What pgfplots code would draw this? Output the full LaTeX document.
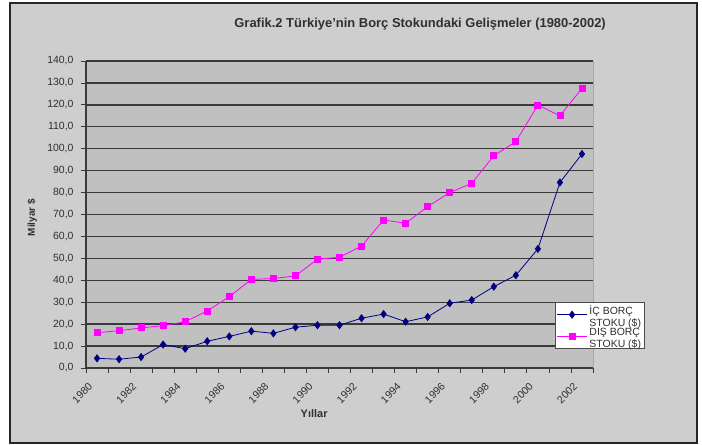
\documentclass[border=0pt]{standalone}
\usepackage{pgfplots}
\pgfplotsset{compat=1.18}
\usepackage{fontspec}
\setmainfont{Liberation Sans}
\definecolor{chartbg}{HTML}{CECECE}
\definecolor{plotbg}{HTML}{C0C0C0}
\definecolor{gridc}{HTML}{3A3A3A}
\definecolor{icblue}{HTML}{000080}
\definecolor{dispink}{HTML}{FF00FF}
\definecolor{txt}{HTML}{303030}

\begin{document}
\begin{tikzpicture}
% page and outer chart frame, in bp from the plot's lower left corner
\useasboundingbox (-86bp,-77bp) rectangle (616bp,368bp);
\fill[white] (-86bp,-77bp) rectangle (616bp,368bp);
\filldraw[fill=chartbg, draw=black!85, line width=2bp] (-76bp,-75bp) rectangle (611bp,365bp);
\begin{axis}[
    at={(0,0)}, anchor=south west,
    scale only axis, width=507bp, height=307bp,
    xmin=-0.5, xmax=22.5, ymin=0, ymax=140,
    axis x line*=bottom, axis y line*=left,
    axis line style={-, gridc, line width=1.2bp},
    axis background/.style={fill=plotbg, draw=gray!70},
    ytick={0,10,...,140},
    ymajorgrids, major grid style={gridc, line width=1.3bp},
    xtick={-0.5,0.5,...,22.5}, xticklabels={},
    extra x ticks={0,2,...,22},
    extra x tick labels={1980,1982,1984,1986,1988,1990,1992,1994,1996,1998,2000,2002},
    extra x tick style={major tick length=0pt, grid=none,
        tick label style={rotate=45, anchor=north east, inner sep=1bp, xshift=-15.5bp, yshift=-2.5bp}},
    tick align=outside, major tick length=5bp,
    tick style={gridc, line width=0.8bp},
    tick label style={font=\fontsize{10.5}{12}\selectfont, text=txt},
    yticklabel style={xshift=-4bp},
    /pgf/number format/assume math mode=true,
    yticklabel style={/pgf/number format/.cd, fixed, fixed zerofill, precision=1, use comma, 1000 sep={}},
    title={Grafik.2 Türkiye'nin Borç Stokundaki Gelişmeler (1980-2002)},
    title style={at={(axis description cs:0.659,1.101)}, anchor=center,
        font=\fontsize{13}{15}\selectfont\bfseries, text=txt},
    xlabel={Yıllar},
    xlabel style={at={(axis description cs:0.45,-0.15)}, anchor=center,
        font=\fontsize{11}{13}\selectfont\bfseries, text=txt},
    ylabel={Milyar \$},
    ylabel style={at={(axis description cs:-0.106,0.49)}, anchor=center, rotate=0,
        font=\fontsize{10}{12}\selectfont\bfseries, text=txt},
    legend style={at={(rel axis cs:0.925,0.215)}, anchor=north west, fill=white,
        draw=gray!60!black, font=\fontsize{10.5}{11.5}\selectfont, text=txt,
        inner sep=1.5bp, row sep=0bp, nodes={text depth=9bp}},
    legend cell align=left,
    legend image code/.code={\draw[mark repeat=2, mark phase=2] plot coordinates {(0bp,0bp) (15bp,0bp) (30bp,0bp)};},
]
\addplot[icblue, line width=0.8bp, mark=diamond*, mark size=3.5bp, mark options={solid, fill=icblue}] coordinates {
    (0,4.4) (1,4.0) (2,5.0) (3,10.7) (4,8.8) (5,12.2) (6,14.4) (7,16.8) (8,15.8) (9,18.6)
    (10,19.5) (11,19.5) (12,22.7) (13,24.6) (14,21.1) (15,23.3) (16,29.5) (17,31.0)
    (18,37.1) (19,42.3) (20,54.3) (21,84.6) (22,97.6)
};
\addlegendentry{\begin{tabular}[t]{@{}l@{}}İÇ BORÇ\\STOKU (\$)\end{tabular}}
\addplot[dispink, line width=0.8bp, mark=square*, mark size=3bp, mark options={solid, fill=dispink}] coordinates {
    (0,16.1) (1,17.0) (2,18.3) (3,19.3) (4,21.1) (5,26.0) (6,32.5) (7,40.4) (8,40.8) (9,42.0)
    (10,49.6) (11,50.5) (12,55.6) (13,67.5) (14,66.0) (15,73.6) (16,80.0) (17,84.2)
    (18,96.8) (19,103.2) (20,119.9) (21,115.0) (22,127.5)
};
\addlegendentry{\begin{tabular}[t]{@{}l@{}}DIŞ BORÇ\\STOKU (\$)\end{tabular}}
\end{axis}
\end{tikzpicture}
\end{document}
